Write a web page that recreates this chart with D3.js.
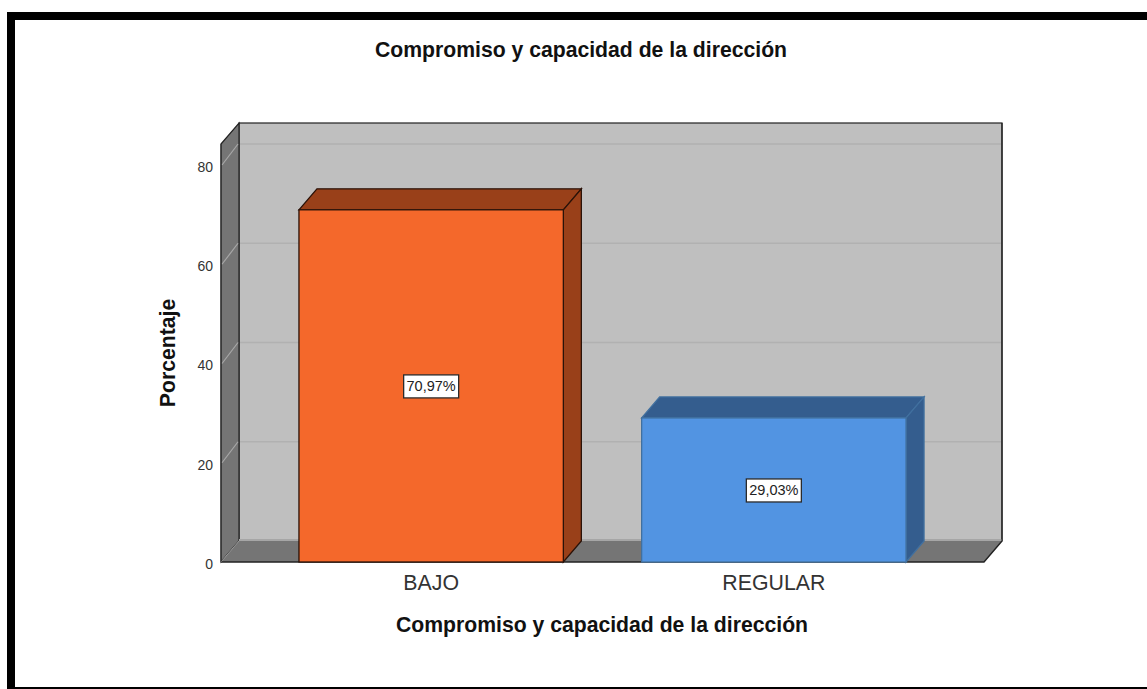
<!DOCTYPE html>
<html><head><meta charset="utf-8">
<script src="https://cdn.jsdelivr.net/npm/d3@7/dist/d3.min.js"></script>
<style>html,body{margin:0;padding:0;background:#fff;overflow:hidden}svg{display:block}text{font-family:"Liberation Sans",Arial,sans-serif}</style>
</head><body><svg id="c" width="1147" height="689"></svg>
<script>
const categories = ["BAJO", "REGULAR"];
const values = [70.97, 29.03];
const valueLabels = ["70,97%", "29,03%"];
const frontColors = ["#f4682b", "#5294e2"];
const shadeColors = ["#994019", "#345d8e"];
const strokeColors = ["#2a1208", "#41709f"];
const yTicks = [0, 20, 40, 60, 80];
const chartTitle = "Compromiso y capacidad de la dirección";
const xTitle = "Compromiso y capacidad de la dirección";
const yTitle = "Porcentaje";

const svg = d3.select("#c");
const dx = 18, dy = -21;
const left = 221, right = 984, bottom = 562;
const y = d3.scaleLinear().domain([0, 80]).range([bottom, 165]);
const x = d3.scaleBand().domain(categories).range([left, right]).paddingInner(0.2285).paddingOuter(0.2275);
const top0 = 144;
const poly = pts => pts.map(p => p.join(",")).join(" ");

// frame
svg.append("rect").attr("x", 7).attr("y", 12).attr("width", 1160).attr("height", 8).attr("fill", "#000");
svg.append("rect").attr("x", 7).attr("y", 12).attr("width", 8).attr("height", 680).attr("fill", "#000");
svg.append("rect").attr("x", 7).attr("y", 687).attr("width", 1160).attr("height", 4).attr("fill", "#000");

// walls
svg.append("rect").attr("x", left + dx).attr("y", top0 + dy).attr("width", right - left).attr("height", bottom - top0)
  .attr("fill", "#bfbfbf").attr("stroke", "#222").attr("stroke-width", 1.2);
svg.append("polygon").attr("points", poly([[left, top0], [left + dx, top0 + dy], [left + dx, bottom + dy], [left, bottom]]))
  .attr("fill", "#757575").attr("stroke", "#222").attr("stroke-width", 1.2);
svg.append("polygon").attr("points", poly([[left, bottom], [left + dx, bottom + dy], [right + dx, bottom + dy], [right, bottom]]))
  .attr("fill", "#757575");
// floor outline
svg.append("polyline").attr("points", poly([[left, bottom], [right, bottom], [right + dx, bottom + dy]]))
  .attr("fill", "none").attr("stroke", "#222").attr("stroke-width", 1.4);
svg.append("line").attr("x1", left).attr("y1", bottom).attr("x2", left + dx).attr("y2", bottom + dy).attr("stroke", "#9a9a9a");
svg.append("line").attr("x1", left + dx).attr("y1", bottom + dy - 1).attr("x2", right + dx).attr("y2", bottom + dy - 1).attr("stroke", "#a6a6a6").attr("stroke-width", 2);
svg.append("line").attr("x1", right + dx).attr("y1", top0 + dy).attr("x2", right + dx).attr("y2", bottom + dy).attr("stroke", "#222").attr("stroke-width", 1.2);

// gridlines
const grid = svg.append("g");
yTicks.filter(t => t > 0).forEach(t => {
  grid.append("line").attr("x1", left + dx + 1).attr("y1", y(t) + dy).attr("x2", right + dx - 1).attr("y2", y(t) + dy)
    .attr("stroke", "#b1b1b1").attr("stroke-width", 1.6);
  grid.append("line").attr("x1", left + 1).attr("y1", y(t)).attr("x2", left + dx - 1).attr("y2", y(t) + dy)
    .attr("stroke", "#a8a8a8").attr("stroke-width", 1.2);
});

// left wall front edge
svg.append("line").attr("x1", left).attr("y1", top0).attr("x2", left).attr("y2", bottom).attr("stroke", "#333").attr("stroke-width", 1);

// bars
const bars = svg.append("g").selectAll("g").data(categories).join("g");
bars.each(function (c, i) {
  const g = d3.select(this);
  const x0 = x(c), x1 = x0 + x.bandwidth(), yt = y(values[i]);
  const s = strokeColors[i];
  g.append("polygon").attr("points", poly([[x0, yt], [x0 + dx, yt + dy], [x1 + dx, yt + dy], [x1, yt]]))
    .attr("fill", shadeColors[i]).attr("stroke", s).attr("stroke-width", 1.3);
  g.append("polygon").attr("points", poly([[x1, yt], [x1 + dx, yt + dy], [x1 + dx, bottom + dy], [x1, bottom]]))
    .attr("fill", shadeColors[i]).attr("stroke", s).attr("stroke-width", 1.3);
  g.append("rect").attr("x", x0).attr("y", yt).attr("width", x1 - x0).attr("height", bottom - yt)
    .attr("fill", frontColors[i]).attr("stroke", s).attr("stroke-width", 1.3);
  const cy = (yt + bottom) / 2;
  const cx = (x0 + x1) / 2;
  g.append("rect").attr("x", cx - 27.5).attr("y", cy - 11).attr("width", 55).attr("height", 23)
    .attr("fill", "#fff").attr("stroke", "#2b2b2b").attr("stroke-width", 1.3);
  g.append("text").attr("x", cx).attr("y", cy + 5.5).attr("text-anchor", "middle")
    .attr("font-size", 14.5).attr("fill", "#222").text(valueLabels[i]);
});

// y axis labels
const yAxis = d3.axisLeft(y).tickValues(yTicks).tickSize(0).tickPadding(8).tickFormat(d3.format("d"));
const ya = svg.append("g").attr("transform", `translate(${left},2)`).call(yAxis);
ya.select(".domain").remove();
ya.selectAll("text").attr("font-size", 14).attr("fill", "#333").style("font-family", '"Liberation Sans",Arial,sans-serif');

// x axis labels
const xAxis = d3.axisBottom(x).tickSize(0).tickPadding(13);
const xa = svg.append("g").attr("transform", `translate(0,${bottom})`).call(xAxis);
xa.select(".domain").remove();
xa.selectAll("text").attr("font-size", 21.3).attr("fill", "#333").style("font-family", '"Liberation Sans",Arial,sans-serif');

// titles
svg.append("text").attr("x", 581).attr("y", 57).attr("text-anchor", "middle").attr("font-size", 21.2).attr("font-weight", "bold").attr("fill", "#111").text(chartTitle);
svg.append("text").attr("x", 602).attr("y", 632).attr("text-anchor", "middle").attr("font-size", 21.2).attr("font-weight", "bold").attr("fill", "#111").text(xTitle);
svg.append("text").attr("transform", "translate(175,353) rotate(-90)").attr("text-anchor", "middle").attr("font-size", 21.2).attr("font-weight", "bold").attr("fill", "#111").text(yTitle);
</script></body></html>
